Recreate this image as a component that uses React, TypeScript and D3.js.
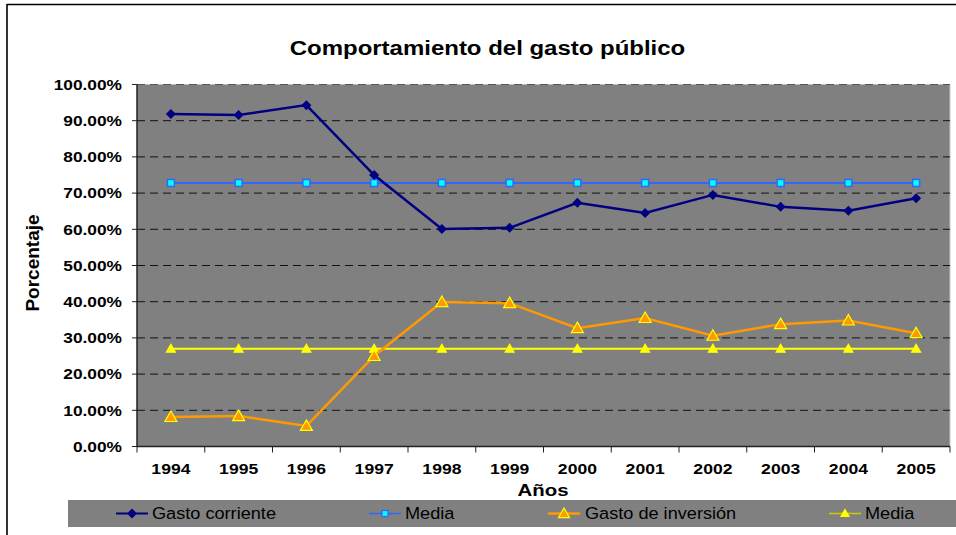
import React from "react";
import * as d3 from "d3";

const years = ["1994","1995","1996","1997","1998","1999","2000","2001","2002","2003","2004","2005"];
const gastoCorriente = [91.85, 91.6, 94.3, 75.0, 60.1, 60.4, 67.3, 64.5, 69.5, 66.2, 65.1, 68.6];
const mediaCorriente = [72.8, 72.8, 72.8, 72.8, 72.8, 72.8, 72.8, 72.8, 72.8, 72.8, 72.8, 72.8];
const gastoInversion = [8.15, 8.4, 5.7, 25.0, 39.9, 39.6, 32.7, 35.5, 30.6, 33.8, 34.8, 31.3];
const mediaInversion = [27.0, 27.0, 27.0, 27.0, 27.0, 27.0, 27.0, 27.0, 27.0, 27.0, 27.0, 27.0];
const yTicks = [0, 10, 20, 30, 40, 50, 60, 70, 80, 90, 100];
const legendLabels = ["Gasto corriente", "Media", "Gasto de inversión", "Media"];

const W = 956, H = 535;
const L = 137, R = 950, T = 84.5, B = 446.5;
const FONT = "Arial, 'Liberation Sans', sans-serif";

function SText({ x, y, sx = 1, anchor = "start", size, bold = false, children }: any) {
  return (
    <text
      transform={`translate(${x},${y}) scale(${sx},1)`}
      dy="0.35em"
      textAnchor={anchor}
      fontSize={size}
      fontWeight={bold ? "bold" : "normal"}
      fill="#000"
    >
      {children}
    </text>
  );
}

export default function App() {
  const x = d3.scaleBand<string>().domain(years).range([L, R]).padding(0);
  const y = d3.scaleLinear().domain([0, 100]).range([B, T]);
  const cx = (d: string) => (x(d) as number) + x.bandwidth() / 2;
  const line = d3.line<number>().x((_, i) => cx(years[i])).y((v) => y(v));

  const diamond = (px: number, py: number, k: string | number, color: string) => (
    <path key={k} d={`M${px},${py - 5}L${px + 5},${py}L${px},${py + 5}L${px - 5},${py}Z`} fill={color} />
  );
  const square = (px: number, py: number, k: string | number) => (
    <rect key={k} x={px - 3.5} y={py - 3.5} width={7} height={7} fill="#00FFFF" stroke="#3366FF" strokeWidth={1.5} />
  );
  const triangle = (px: number, py: number, k: string | number, fill: string, stroke: string, s = 6) => (
    <path key={k} d={`M${px},${py - s}L${px + s},${py + s * 0.75}L${px - s},${py + s * 0.75}Z`} fill={fill} stroke={stroke} strokeWidth={1.2} />
  );

  const LY = 513.5;

  return (
    <svg width={W} height={H} style={{ position: "fixed", left: 0, top: 0, display: "block", fontFamily: FONT }}>
      <rect x={0} y={0} width={W} height={H} fill="#fff" />
      {/* outer border */}
      <line x1={7} y1={4.5} x2={W} y2={4.5} stroke="#000" strokeWidth={1.6} />
      <line x1={7} y1={4} x2={7} y2={H} stroke="#000" strokeWidth={1.6} />

      <SText x={487.5} y={48} anchor="middle" size={19.5} bold sx={1.23}>Comportamiento del gasto público</SText>

      {/* plot area */}
      <rect x={L} y={T} width={R - L} height={B - T} fill="#808080" />
      <line x1={R} y1={T} x2={R} y2={B} stroke="#c8c8c8" strokeWidth={1} />
      {yTicks.filter((t) => t > 0).map((t) => (
        <line key={t} x1={L} x2={R} y1={y(t)} y2={y(t)} stroke={t === 100 ? "#555" : "#111"} strokeWidth={1} strokeDasharray="8,5" />
      ))}
      {/* axes */}
      <line x1={L} y1={T} x2={L} y2={B} stroke="#222" strokeWidth={1.5} />
      <line x1={L} y1={B} x2={R} y2={B} stroke="#222" strokeWidth={1.5} />
      {yTicks.map((t) => (
        <g key={t}>
          <line x1={L - 5} x2={L} y1={y(t)} y2={y(t)} stroke="#222" strokeWidth={1} />
          <SText x={122} y={y(t)} anchor="end" size={15} bold sx={1.155}>{t.toFixed(2)}%</SText>
        </g>
      ))}
      {years.map((yr) => (
        <g key={yr}>
          <line x1={x(yr) as number} x2={x(yr) as number} y1={B} y2={B + 6} stroke="#222" strokeWidth={1} />
          <SText x={cx(yr)} y={469} anchor="middle" size={15} bold sx={1.17}>{yr}</SText>
        </g>
      ))}
      <line x1={R} x2={R} y1={B} y2={B + 6} stroke="#222" strokeWidth={1} />

      <SText x={543} y={490} anchor="middle" size={17} bold sx={1.2}>Años</SText>
      <text transform={`translate(32,263) rotate(-90)`} textAnchor="middle" dy="0.35em" fontSize={19} fontWeight="bold">Porcentaje</text>

      {/* series */}
      <path d={line(mediaInversion) || ""} fill="none" stroke="#FFFF00" strokeWidth={2} />
      {mediaInversion.map((v, i) => triangle(cx(years[i]), y(v), "mi" + i, "#FFFF00", "#FFFF00", 4.5))}
      <path d={line(gastoInversion) || ""} fill="none" stroke="#FF9900" strokeWidth={2.5} />
      {gastoInversion.map((v, i) => triangle(cx(years[i]), y(v), "gi" + i, "#FF9900", "#FFFF00", 6))}
      <path d={line(mediaCorriente) || ""} fill="none" stroke="#3366FF" strokeWidth={2} />
      {mediaCorriente.map((v, i) => square(cx(years[i]), y(v), "mc" + i))}
      <path d={line(gastoCorriente) || ""} fill="none" stroke="#000080" strokeWidth={2.5} />
      {gastoCorriente.map((v, i) => diamond(cx(years[i]), y(v), "gc" + i, "#000080"))}

      {/* legend */}
      <rect x={68} y={500} width={W - 68} height={27} fill="#808080" />
      <line x1={116} x2={148} y1={LY} y2={LY} stroke="#000080" strokeWidth={2} />
      {diamond(132, LY, "lg1", "#000080")}
      <SText x={152} y={LY} size={16.5} sx={1.1}>{legendLabels[0]}</SText>

      <line x1={369} x2={401} y1={LY} y2={LY} stroke="#3366FF" strokeWidth={1.5} />
      <rect x={382} y={LY - 3} width={6} height={6} fill="#00FFFF" stroke="#3366FF" strokeWidth={1.2} />
      <SText x={405} y={LY} size={16.5} sx={1.1}>{legendLabels[1]}</SText>

      <line x1={548} x2={580} y1={LY} y2={LY} stroke="#FF9900" strokeWidth={2.5} />
      {triangle(564, LY, "lg3", "#FF9900", "#FFFF00", 5.5)}
      <SText x={585} y={LY} size={16.5} sx={1.1}>{legendLabels[2]}</SText>

      <line x1={829} x2={861} y1={LY} y2={LY} stroke="#CCCC00" strokeWidth={1.5} />
      {triangle(845, LY, "lg4", "#FFFF00", "#FFFF00", 4)}
      <SText x={865} y={LY} size={16.5} sx={1.1}>{legendLabels[3]}</SText>
    </svg>
  );
}
